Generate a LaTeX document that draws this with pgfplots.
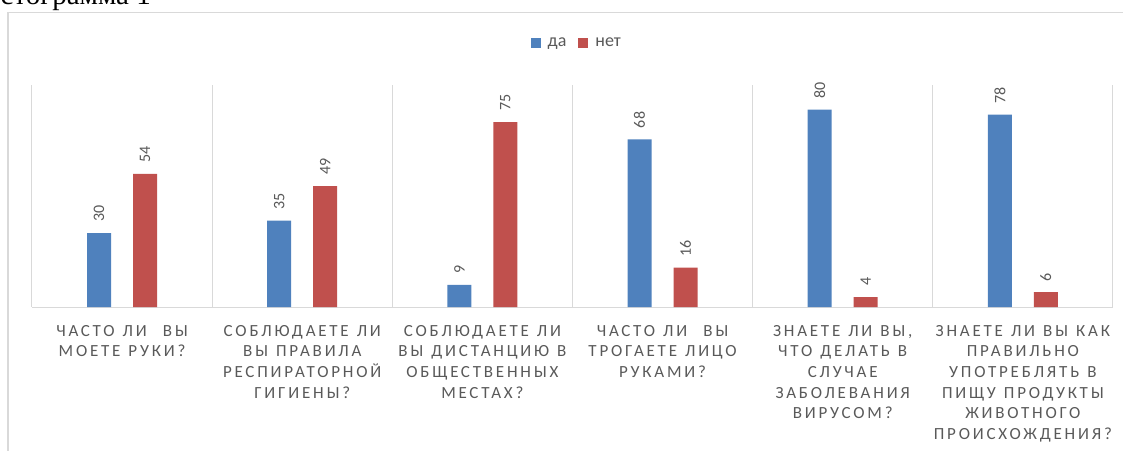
\documentclass[border=0pt]{standalone}
\usepackage{pgfplots}
\pgfplotsset{compat=1.18}
\usepackage{fontspec}
\setmainfont{Carlito}
\newfontfamily\lbl[LetterSpace=16.5]{Carlito}
\newfontfamily\ttl{Liberation Serif}
\newcommand\lblfont{\lbl\fontsize{17}{20.6}\selectfont\spaceskip=8pt\relax}
\definecolor{cblue}{HTML}{4F81BD}
\definecolor{cred}{HTML}{C0504D}
\definecolor{ctext}{HTML}{595959}
\definecolor{cgrid}{HTML}{D9D9D9}
\begin{document}
\begin{tikzpicture}
\useasboundingbox (0pt,0pt) rectangle (1123pt,-450pt);
\draw[cgrid, line width=1.5pt] (8pt,-12.5pt) rectangle (1140pt,-470pt);
\node[anchor=base east, inner sep=0pt, font=\ttl\fontsize{29}{33}\selectfont] at (151pt,-4pt) {Гистограмма 1};
\begin{axis}[
  at={(32pt,-307pt)}, anchor=south west,
  scale only axis, width=1081pt, height=222pt,
  xmin=-0.5, xmax=5.5, ymin=0, ymax=90,
  axis line style={draw=none},
  /pgf/number format/assume math mode=true,
  ybar=22pt, bar width=24pt,
  xtick={0,1,2,3,4,5},
  minor xtick={-0.5,0.5,1.5,2.5,3.5,4.5,5.5},
  xminorgrids=true,
  minor grid style={cgrid, line width=1pt},
  ytick={0}, yticklabels={}, ymajorgrids=true,
  major grid style={cgrid, line width=1pt},
  major tick length=0pt, minor tick length=0pt,
  xticklabels={
    {ЧАСТО ЛИ \ ВЫ\\МОЕТЕ РУКИ?},
    {СОБЛЮДАЕТЕ ЛИ\\ВЫ ПРАВИЛА\\РЕСПИРАТОРНОЙ\\ГИГИЕНЫ?},
    {СОБЛЮДАЕТЕ ЛИ\\ВЫ ДИСТАНЦИЮ В\\ОБЩЕСТВЕННЫХ\\МЕСТАХ?},
    {ЧАСТО ЛИ \ ВЫ\\ТРОГАЕТЕ ЛИЦО\\РУКАМИ?},
    {ЗНАЕТЕ ЛИ ВЫ,\\ЧТО ДЕЛАТЬ В\\СЛУЧАЕ\\ЗАБОЛЕВАНИЯ\\ВИРУСОМ?},
    {ЗНАЕТЕ ЛИ ВЫ КАК\\ПРАВИЛЬНО\\УПОТРЕБЛЯТЬ В\\ПИЩУ ПРОДУКТЫ\\ЖИВОТНОГО\\ПРОИСХОЖДЕНИЯ?}
  },
  xticklabel style={align=center, anchor=north, text=ctext, inner sep=0pt, yshift=-18pt,
    font=\lblfont},
  nodes near coords,
  nodes near coords style={rotate=90, anchor=west, text=ctext, inner xsep=11pt,
    font=\fontsize{16}{18}\selectfont},
  legend columns=2,
  legend style={at={(0.504,1.189)}, anchor=center, draw=none, fill=none,
    font=\fontsize{18}{21}\selectfont, text=ctext,
    /tikz/every even column/.append style={column sep=10pt}},
  legend image code/.code={\fill[#1] (0pt,-5pt) rectangle (10pt,5pt); \path (15pt,0pt);},
]
\addplot[fill=cblue, draw=none] coordinates {(0,30) (1,35) (2,9) (3,68) (4,80) (5,78)};
\addplot[fill=cred, draw=none] coordinates {(0,54) (1,49) (2,75) (3,16) (4,4) (5,6)};
\legend{да,нет}
\end{axis}
\end{tikzpicture}
\end{document}
